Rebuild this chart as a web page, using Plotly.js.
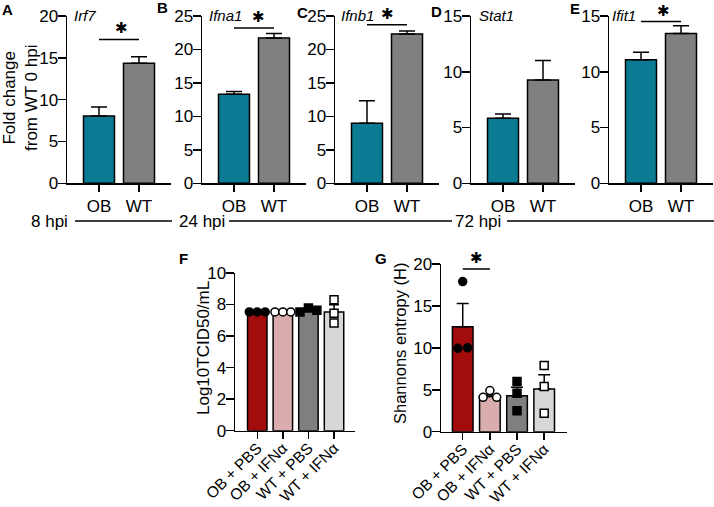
<!DOCTYPE html>
<html><head><meta charset="utf-8">
<script src="https://cdn.plot.ly/plotly-3.0.1.min.js"></script>
<style>html,body{margin:0;padding:0;background:#fff}#chart{width:714px;height:507px}</style>
</head><body><div id="chart"></div>
<script>
// ---------- data ----------
const genes = ['Irf7', 'Ifna1', 'Ifnb1', 'Stat1', 'Ifit1'];
const panelLetters = ['A', 'B', 'C', 'D', 'E'];
const groups = ['OB', 'WT'];
const obMean = [8.05, 13.3, 8.96, 5.83, 11.08];
const obErr  = [1.07, 0.40, 3.39, 0.38, 0.66];
const wtMean = [14.34, 21.7, 22.3, 9.26, 13.44];
const wtErr  = [0.80, 0.70, 0.46, 1.74, 0.69];
const yMax   = [20, 25, 25, 15, 15];
const sigLevel = [17.2, 23.2, 23.7, null, 14.5];
const timeLabels = ['8 hpi', '24 hpi', '72 hpi'];

const treatments = ['OB + PBS', 'OB + IFNα', 'WT + PBS', 'WT + IFNα'];
const titerMean = [7.53, 7.53, 7.65, 7.53];
const titerErr  = [0, 0, 0.08, 0.46];
const titerPoints = [[7.53, 7.53, 7.53], [7.53, 7.53, 7.53], [7.53, 7.78, 7.63], [8.31, 7.45, 6.83]];
const entropyMean = [12.52, 4.2, 4.3, 5.1];
const entropyErr  = [2.78, 0.2, 1.0, 1.7];
const entropyPoints = [[9.94, 17.9, 10.0], [4.1, 4.9, 4.1], [6.0, 4.6, 2.5], [7.9, 5.4, 2.2]];
const entropySig = 19.4;

// ---------- style ----------
const W = 714, H = 507;
const px = x => x / W, py = y => 1 - y / H;
const FONT = 'Liberation Sans, Arial, sans-serif';
const FS = 17;
const topColors = ['#0b7a93', '#808080'];
const botColors = ['#a30c0c', '#d9adae', '#7f7f7f', '#d7d7d7'];
const symbols = [
  {symbol: 'circle', color: '#000'}, {symbol: 'circle', color: '#fff'},
  {symbol: 'square', color: '#000'}, {symbol: 'square', color: '#fff'}];
const topDom = [[67, 171], [202, 306], [335, 439], [471, 575], [609, 713]];
const genePos = [72, 207, 339, 477, 610];
const starShift = [2, 4, 0, 0, 2];
const letterPos = [[7, 10], [162, 8], [302, 12], [436, 11], [575, 9], [184, 258], [381, 258]];
const titerSpread = [0.31, 0.31, 0.33, 0];
const entropySpread = [0.18, 0.25, 0, 0];

const layout = {
  width: W, height: H, margin: {l: 0, r: 0, t: 0, b: 0},
  paper_bgcolor: '#fff', plot_bgcolor: 'rgba(0,0,0,0)', showlegend: false,
  font: {family: FONT, size: FS, color: '#000'},
  shapes: [], annotations: []
};
const axBase = {
  showline: true, linecolor: '#000', linewidth: 1.5, ticks: 'outside', ticklen: 7,
  tickwidth: 1.5, tickcolor: '#000', showgrid: false, zeroline: false, fixedrange: true,
  tickfont: {family: FONT, size: FS, color: '#000'}
};
const traces = [];
const nm = (p, n) => n === 1 ? p : p + n;

function addPanelAxes(n, xd, yd, xExtra, yExtra) {
  layout[nm('xaxis', n)] = Object.assign({}, axBase, {domain: [px(xd[0]), px(xd[1])], anchor: nm('y', n)}, xExtra);
  layout[nm('yaxis', n)] = Object.assign({}, axBase, {domain: [py(yd[1]), py(yd[0])], anchor: nm('x', n)}, yExtra);
}
function star(n, xc, y, shift) {
  layout.annotations.push({xref: nm('x', n), yref: nm('y', n), x: xc, y: y, text: '✱',
    showarrow: false, yanchor: 'bottom', yshift: 0, xshift: shift || 0,
    font: {family: 'DejaVu Sans', size: 15, color: '#000'}});
}
function sigLine(n, x0, x1, y) {
  layout.shapes.push({type: 'line', xref: nm('x', n), yref: nm('y', n), x0: x0, x1: x1, y0: y, y1: y,
    line: {color: '#000', width: 1.5}});
}

// ---------- top panels A-E ----------
for (let i = 0; i < 5; i++) {
  const n = i + 1;
  addPanelAxes(n, topDom[i], [16, 183.3],
    {type: 'category', range: [-0.8, 1.8], ticklen: 7},
    {range: [0, yMax[i]], dtick: 5, tick0: 0, ticklen: 8, ticklabelstandoff: -4});
  traces.push({
    type: 'bar', x: groups, y: [obMean[i], wtMean[i]], xaxis: nm('x', n), yaxis: nm('y', n),
    width: 0.775, marker: {color: topColors, line: {color: '#000', width: 1.5}},
    error_y: {type: 'data', symmetric: false, array: [obErr[i], wtErr[i]], arrayminus: [0, 0],
      color: '#000', thickness: 1.5, width: 8},
    hoverinfo: 'skip'
  });
  if (sigLevel[i] !== null) {
    sigLine(n, 'OB', 'WT', sigLevel[i]);
    star(n, 0.5, sigLevel[i], starShift[i]);
  }
  layout.annotations.push({xref: 'paper', yref: 'paper', x: px(genePos[i]), y: py(15),
    xanchor: 'left', yanchor: 'middle', text: '<i>' + genes[i] + '</i>', showarrow: false,
    font: {family: FONT, size: 15, color: '#000'}});
}

// ---------- bottom panels F and G ----------
function addDotPanel(n, xd, yd, range, ymax, dtick, means, errs, pts, spread, capW) {
  addPanelAxes(n, xd, yd,
    {range: range, tickvals: [0, 1, 2, 3], ticktext: treatments, tickangle: -45, ticklen: 7,
     ticklabelstandoff: -6, tickfont: {family: FONT, size: 15.5, color: '#000'}},
    {range: [0, ymax], dtick: dtick, tick0: 0, ticklen: 8, ticklabelstandoff: -4});
  traces.push({
    type: 'bar', x: [0, 1, 2, 3], y: means, xaxis: nm('x', n), yaxis: nm('y', n),
    width: 0.76, marker: {color: botColors, line: {color: '#000', width: 1.5}},
    error_y: {type: 'data', symmetric: false, array: errs, arrayminus: [0, 0, 0, 0],
      color: '#000', thickness: 1.5, width: capW},
    hoverinfo: 'skip'
  });
  for (let g = 0; g < 4; g++) {
    const s = spread[g];
    traces.push({
      type: 'scatter', mode: 'markers', xaxis: nm('x', n), yaxis: nm('y', n),
      x: [g - s, g, g + s], y: pts[g], cliponaxis: false,
      marker: {symbol: symbols[g].symbol, size: 8, color: symbols[g].color, line: {color: '#000', width: 1.5}},
      hoverinfo: 'skip'
    });
  }
}
addDotPanel(6, [235, 355], [273, 430.7], [-0.87, 3.82], 10, 2, titerMean, titerErr, titerPoints, titerSpread, 5);
addDotPanel(7, [441, 567], [264, 431.7], [-0.8, 3.84], 20, 5, entropyMean, entropyErr, entropyPoints, entropySpread, 6);
sigLine(7, 0, 1, entropySig);
star(7, 0.5, entropySig, 0);

// ---------- texts ----------
const allLetters = panelLetters.concat(['F', 'G']);
allLetters.forEach((L, k) => layout.annotations.push({xref: 'paper', yref: 'paper',
  x: px(letterPos[k][0]), y: py(letterPos[k][1]), xanchor: 'center', yanchor: 'middle',
  text: '<b>' + L + '</b>', showarrow: false, font: {family: FONT, size: 15, color: '#000'}}));

const yTitles = [
  {x: 20, y: 98, t: 'Fold change<br>from WT 0 hpi', s: 17},
  {x: 203, y: 348, t: 'Log10TCID50/mL', s: 17},
  {x: 400, y: 344, t: 'Shannons entropy (H)', s: 16.5}];
yTitles.forEach(o => layout.annotations.push({xref: 'paper', yref: 'paper', x: px(o.x), y: py(o.y),
  xanchor: 'center', yanchor: 'middle', textangle: -90, text: o.t, showarrow: false,
  font: {family: FONT, size: o.s, color: '#000'}}));

// timeline
const tlText = [49.5, 201.5, 478];
const tlLines = [[75, 172], [229, 452], [507, 714]];
timeLabels.forEach((t, k) => layout.annotations.push({xref: 'paper', yref: 'paper',
  x: px(tlText[k]), y: py(221), xanchor: 'center', yanchor: 'middle', text: t, showarrow: false,
  font: {family: FONT, size: FS, color: '#000'}}));
tlLines.forEach(l => layout.shapes.push({type: 'line', xref: 'paper', yref: 'paper',
  x0: px(l[0]), x1: px(l[1]), y0: py(221), y1: py(221), line: {color: '#000', width: 1.5}}));

Plotly.newPlot('chart', traces, layout, {staticPlot: true, displayModeBar: false});
</script>
</body></html>
